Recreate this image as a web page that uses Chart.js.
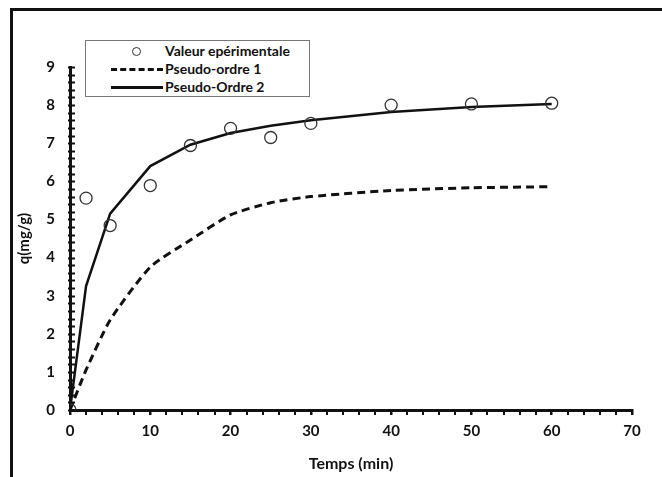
<!DOCTYPE html>
<html>
<head>
<meta charset="utf-8">
<script src="https://cdn.jsdelivr.net/npm/chart.js@4.4.1/dist/chart.umd.min.js"></script>
<style>
  html, body { margin: 0; padding: 0; background: #fff; }
  #wrap { position: relative; width: 662px; height: 477px; overflow: hidden; }
  #frame { position: absolute; left: 10px; top: 8px; width: 700px; height: 600px;
           border-left: 3px solid #111; border-top: 3px solid #111; box-sizing: border-box; }
  #legend { position: absolute; left: 85px; top: 40px; width: 225px; height: 57px;
            border: 1px solid #777; background: #fff; box-sizing: border-box;
            font: bold 14px Lato, "Open Sans", sans-serif; color: #111; }
  .row { position: absolute; left: 0; height: 18px; width: 100%; }
  .row .txt { position: absolute; left: 79px; top: 0; line-height: 18px; }
  .row .mark { position: absolute; }
</style>
</head>
<body>
<div id="wrap">
  <div id="frame"></div>
  <canvas id="chart" width="662" height="477"></canvas>
  <div id="legend"></div>
</div>
<script>
const temps = [0, 2, 5, 10, 15, 20, 25, 30, 40, 50, 60];
const experimental = [0, 5.56, 4.84, 5.89, 6.94, 7.39, 7.15, 7.52, 8.0, 8.03, 8.05];
const pseudoOrdre1 = [0, 1.05, 2.36, 3.75, 4.46, 5.12, 5.44, 5.6, 5.76, 5.83, 5.86];
const pseudoOrdre2 = [0, 3.25, 5.15, 6.4, 6.96, 7.27, 7.46, 7.6, 7.82, 7.95, 8.03];
const seriesNames = ['Valeur epérimentale', 'Pseudo-ordre 1', 'Pseudo-Ordre 2'];
const xTicks = [0, 10, 20, 30, 40, 50, 60, 70];
const yTicks = [0, 1, 2, 3, 4, 5, 6, 7, 8, 9];

const toXY = (ys) => temps.map((t, i) => ({ x: t, y: ys[i] }));
const FONT = 'Lato, "Open Sans", sans-serif';

// short inward ticks on the y axis, every 0.2
const yMinorTicks = {
  id: 'yMinorTicks',
  afterDraw(chart) {
    const ctx = chart.ctx;
    const y = chart.scales.y;
    const x0 = chart.scales.x.getPixelForValue(0);
    ctx.save();
    ctx.strokeStyle = '#111';
    ctx.lineWidth = 2;
    for (let i = 0; i <= 45; i++) {
      const py = Math.round(y.getPixelForValue(i * 0.2)) + 0.5;
      ctx.beginPath();
      ctx.moveTo(x0 - 2, py);
      ctx.lineTo(x0 + 5, py);
      ctx.stroke();
    }
    ctx.restore();
  }
};

const chart = new Chart(document.getElementById('chart').getContext('2d'), {
  type: 'scatter',
  data: {
    datasets: [
      {
        label: seriesNames[0],
        data: toXY(experimental),
        showLine: false,
        pointRadius: 6,
        pointBorderWidth: 1.3,
        pointBorderColor: '#333',
        pointBackgroundColor: 'rgba(255,255,255,0)',
        order: 0
      },
      {
        label: seriesNames[1],
        data: toXY(pseudoOrdre1),
        showLine: true,
        borderColor: '#111',
        borderWidth: 3,
        borderDash: [8, 5],
        pointRadius: 0,
        tension: 0.2,
        order: 2
      },
      {
        label: seriesNames[2],
        data: toXY(pseudoOrdre2),
        showLine: true,
        borderColor: '#111',
        borderWidth: 2.5,
        pointRadius: 0,
        tension: 0,
        order: 1
      }
    ]
  },
  options: {
    responsive: false,
    animation: false,
    layout: { padding: { left: 15, top: 67, right: 30, bottom: 4 } },
    plugins: { legend: { display: false }, tooltip: { enabled: false } },
    scales: {
      x: {
        type: 'linear',
        min: 0, max: 70,
        afterFit: (s) => { s.height = 63; },
        afterBuildTicks: (s) => {
          const t = [];
          for (let v = 0; v <= 70; v += 2) t.push({ value: v });
          s.ticks = t;
        },
        border: { display: true, color: '#111', width: 3 },
        grid: {
          drawOnChartArea: false,
          drawTicks: true,
          tickLength: 5,
          color: '#111',
          lineWidth: (c) => (xTicks.includes(c.tick ? c.tick.value : -1) ? 2.5 : 2)
        },
        ticks: {
          autoSkip: false,
          maxRotation: 0,
          padding: 7,
          color: '#111',
          font: { family: FONT, size: 15, weight: 'bold' },
          callback: (v) => (xTicks.includes(v) ? String(v) : '')
        },
        title: {
          display: true,
          text: 'Temps (min)',
          color: '#111',
          font: { family: FONT, size: 16, weight: 'bold' },
          padding: { top: 4, bottom: 0 }
        }
      },
      y: {
        min: 0, max: 9,
        afterFit: (s) => { s.width = 55; },
        afterBuildTicks: (s) => { s.ticks = yTicks.map((v) => ({ value: v })); },
        border: { display: true, color: '#111', width: 3 },
        grid: { drawOnChartArea: false, drawTicks: false },
        ticks: {
          padding: 15,
          color: '#111',
          font: { family: FONT, size: 15, weight: 'bold' }
        },
        title: {
          display: true,
          text: 'q(mg/g)',
          color: '#111',
          font: { family: FONT, size: 15, weight: 'bold' },
          padding: { top: 0, bottom: 0 }
        }
      }
    }
  },
  plugins: [yMinorTicks]
});

// html legend built from the chart datasets
const legend = document.getElementById('legend');
chart.data.datasets.forEach((ds, i) => {
  const row = document.createElement('div');
  row.className = 'row';
  row.style.top = (1 + i * 18) + 'px';
  const mark = document.createElement('div');
  mark.className = 'mark';
  if (i === 0) {
    Object.assign(mark.style, { left: '46px', top: '5px', width: '7px', height: '7px',
      border: '1.2px solid #333', borderRadius: '50%' });
  } else {
    Object.assign(mark.style, { left: '25px', top: '8px', width: '52px', height: '0',
      borderTop: (i === 1 ? '3px dashed #111' : '3px solid #111') });
  }
  const txt = document.createElement('span');
  txt.className = 'txt';
  txt.textContent = ds.label;
  row.appendChild(mark);
  row.appendChild(txt);
  legend.appendChild(row);
});
</script>
</body>
</html>
